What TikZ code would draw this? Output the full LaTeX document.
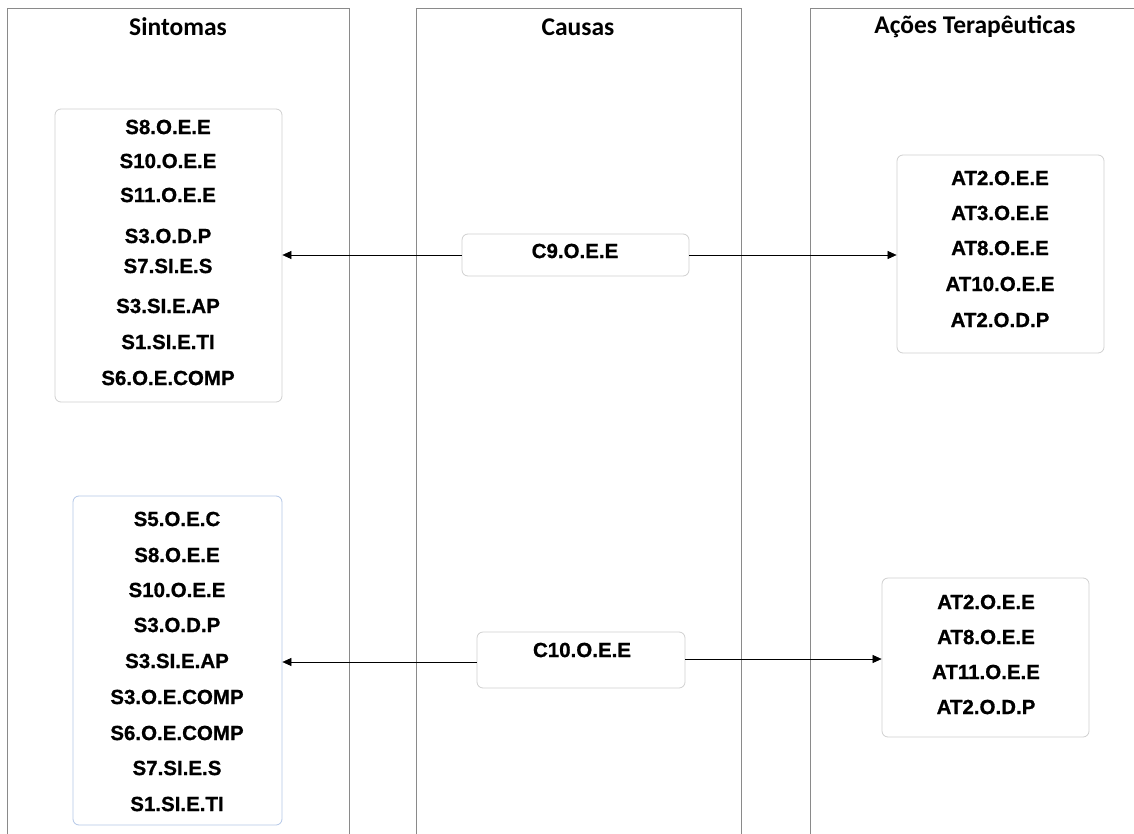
\documentclass[tikz,border=0pt]{standalone}
\usepackage{fontspec}
\setmainfont{Liberation Sans}
\newfontfamily\itemfont{Liberation Sans}[BoldFeatures={FakeBold=0.8}]
\newfontfamily\headfont{Carlito}
\usetikzlibrary{arrows.meta}
\definecolor{colline}{HTML}{8A8A8A}
\definecolor{boxgray}{HTML}{D0D0D0}
\definecolor{boxblue}{HTML}{B4C7E7}
\tikzset{
  column/.style={draw=colline, line width=0.8pt},
  head/.style={font=\headfont\bfseries\fontsize{25.5}{28}\selectfont, anchor=center},
  item/.style={font=\itemfont\bfseries\fontsize{20.5}{23}\selectfont, anchor=center, inner sep=0pt},
  roundbox/.style={draw=boxgray, line width=0.8pt, rounded corners=6pt, fill=white, inner sep=0pt},
  link/.style={line width=0.6pt, -{Triangle[length=9pt,width=8pt]}},
}
\begin{document}
\begin{tikzpicture}[x=1pt,y=-1pt]
\useasboundingbox (0,0) rectangle (1134,834);
\fill[white] (0,0) rectangle (1134,834);

% column frames (open at the bottom)
\draw[column] (7,840) -- (7,8) -- (349,8) -- (349,840);
\draw[column] (416,840) -- (416,8) -- (741,8) -- (741,840);
\draw[column] (810,840) -- (810,8) -- (1140,8);

\node[head] (hs) at (178,27) {Sintomas};
\node[head] (hc) at (578,27) {Causas};
\node[head] (ha) at (975,27) {Ações Terapêuticas};

% symptom groups
\node[roundbox, minimum width=227pt, minimum height=293pt] (s1) at (168.5,255.5) {};
\node[item] (s1a) at (168,127) {S8.O.E.E};
\node[item] (s1b) at (168,161) {S10.O.E.E};
\node[item] (s1c) at (168,195) {S11.O.E.E};
\node[item] (s1d) at (168,236) {S3.O.D.P};
\node[item] (s1e) at (168,266) {S7.SI.E.S};
\node[item] (s1f) at (168,306) {S3.SI.E.AP};
\node[item] (s1g) at (168,342) {S1.SI.E.TI};
\node[item] (s1h) at (168,378) {S6.O.E.COMP};

\node[roundbox, draw=boxblue, minimum width=209pt, minimum height=329pt] (s2) at (177.5,660.5) {};
\node[item] (s2a) at (177,519) {S5.O.E.C};
\node[item] (s2b) at (177,555) {S8.O.E.E};
\node[item] (s2c) at (177,590) {S10.O.E.E};
\node[item] (s2d) at (177,625) {S3.O.D.P};
\node[item] (s2e) at (177,661) {S3.SI.E.AP};
\node[item] (s2f) at (177,697) {S3.O.E.COMP};
\node[item] (s2g) at (177,733) {S6.O.E.COMP};
\node[item] (s2h) at (177,768) {S7.SI.E.S};
\node[item] (s2i) at (177,804) {S1.SI.E.TI};

% causes
\node[roundbox, minimum width=227pt, minimum height=42pt] (c9) at (575.5,255) {};
\node[item] (c9t) at (575,251) {C9.O.E.E};
\node[roundbox, minimum width=208pt, minimum height=56pt] (c10) at (581,660) {};
\node[item] (c10t) at (582,650) {C10.O.E.E};

% therapeutic actions
\node[roundbox, minimum width=207pt, minimum height=198pt] (a1) at (1000.5,254) {};
\node[item] (a1a) at (1000,178) {AT2.O.E.E};
\node[item] (a1b) at (1000,213) {AT3.O.E.E};
\node[item] (a1c) at (1000,248) {AT8.O.E.E};
\node[item] (a1d) at (1000,284) {AT10.O.E.E};
\node[item] (a1e) at (1000,320) {AT2.O.D.P};

\node[roundbox, minimum width=207pt, minimum height=159pt] (a2) at (985.5,657.5) {};
\node[item] (a2a) at (986,602) {AT2.O.E.E};
\node[item] (a2b) at (986,637) {AT8.O.E.E};
\node[item] (a2c) at (986,672) {AT11.O.E.E};
\node[item] (a2d) at (986,707) {AT2.O.D.P};

% links
\draw[link] (c9.west) -- (s1.east |- c9.west);
\draw[link] (c9.east) -- (a1.west |- c9.east);
\draw[link] (c10.west |- 0,662) -- (s2.east |- 0,662);
\draw[link] (c10.east |- 0,659) -- (a2.west |- 0,659);
\end{tikzpicture}
\end{document}
